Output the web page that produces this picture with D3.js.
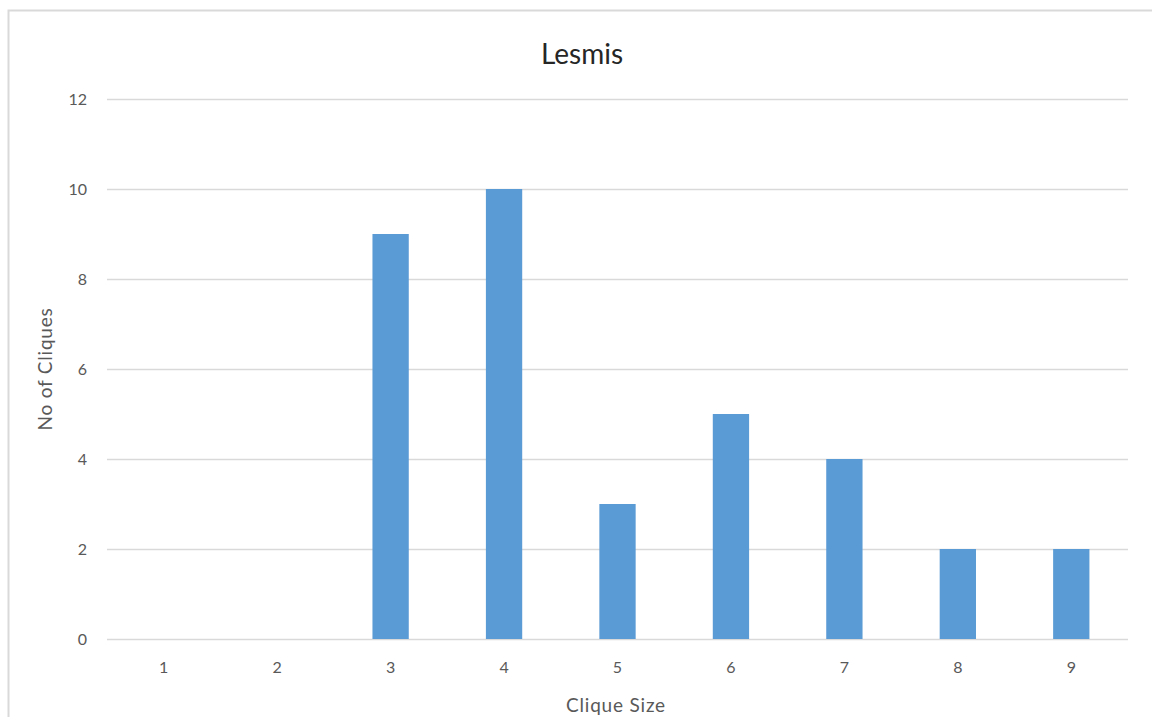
<!DOCTYPE html>
<html>
<head>
<meta charset="utf-8">
<script src="https://cdn.jsdelivr.net/npm/d3@7"></script>
<style>
  html, body { margin: 0; padding: 0; background: #fff; }
  svg { display: block; }
  text { font-family: Lato, "Open Sans", "Liberation Sans", sans-serif; fill: #595959; }
</style>
</head>
<body>
<svg id="chart" width="1152" height="717"></svg>
<script>
// Clique size distribution for the Les Misérables network
const chartTitle = "Lesmis";
const cliqueSizes = ["1", "2", "3", "4", "5", "6", "7", "8", "9"];
const cliqueCounts = [0, 0, 9, 10, 3, 5, 4, 2, 2];
const yTicks = [0, 2, 4, 6, 8, 10, 12];
const xTitle = "Clique Size";
const yTitle = "No of Cliques";

const svg = d3.select("#chart");
const W = 1152, H = 717;
const plot = { left: 107, right: 1128, top: 99, bottom: 639 };

// chart frame
svg.append("rect")
  .attr("x", 8.5).attr("y", 10.5)
  .attr("width", W + 10).attr("height", H + 10)
  .attr("fill", "none").attr("stroke", "#d9d9d9").attr("stroke-width", 2);

const x = d3.scaleBand()
  .domain(cliqueSizes)
  .range([plot.left, plot.right])
  .paddingInner(0.68)
  .paddingOuter(0.34);

const y = d3.scaleLinear()
  .domain([0, 12])
  .range([plot.bottom, plot.top]);

// horizontal gridlines
svg.append("g")
  .selectAll("line")
  .data(yTicks)
  .join("line")
  .attr("x1", plot.left).attr("x2", plot.right)
  .attr("y1", d => Math.round(y(d)) + 0.5)
  .attr("y2", d => Math.round(y(d)) + 0.5)
  .attr("stroke", "#d9d9d9").attr("stroke-width", 1.5);

// y axis labels
const yAxis = d3.axisLeft(y).tickValues(yTicks).tickSize(0).tickPadding(0);
svg.append("g")
  .attr("transform", `translate(${plot.left - 20},0)`)
  .call(yAxis)
  .call(g => g.select(".domain").remove())
  .call(g => g.selectAll("text")
    .attr("font-size", 16)
    .attr("fill", "#595959")
    .style("font-family", "Lato, 'Open Sans', sans-serif"));

// x axis labels
const xAxis = d3.axisBottom(x).tickSize(0).tickPadding(0);
svg.append("g")
  .attr("transform", `translate(0,${plot.bottom + 23})`)
  .call(xAxis)
  .call(g => g.select(".domain").remove())
  .call(g => g.selectAll("text")
    .attr("font-size", 16)
    .attr("fill", "#595959")
    .style("font-family", "Lato, 'Open Sans', sans-serif"));

// bars
svg.append("g")
  .selectAll("rect")
  .data(cliqueSizes.map((k, i) => ({ k, v: cliqueCounts[i] })))
  .join("rect")
  .attr("x", d => x(d.k))
  .attr("width", x.bandwidth())
  .attr("y", d => y(d.v))
  .attr("height", d => y(0) - y(d.v))
  .attr("fill", "#5b9bd5");

// title
svg.append("text")
  .attr("x", 582).attr("y", 64)
  .attr("text-anchor", "middle")
  .attr("font-size", 28)
  .style("fill", "#262626")
  .text(chartTitle);

// axis titles
svg.append("text")
  .attr("x", 616).attr("y", 712)
  .attr("text-anchor", "middle")
  .attr("font-size", 19)
  .attr("letter-spacing", 0.8)
  .text(xTitle);

svg.append("text")
  .attr("transform", `translate(52,${(plot.top + plot.bottom) / 2}) rotate(-90)`)
  .attr("text-anchor", "middle")
  .attr("font-size", 19)
  .attr("letter-spacing", 0.8)
  .text(yTitle);
</script>
</body>
</html>
